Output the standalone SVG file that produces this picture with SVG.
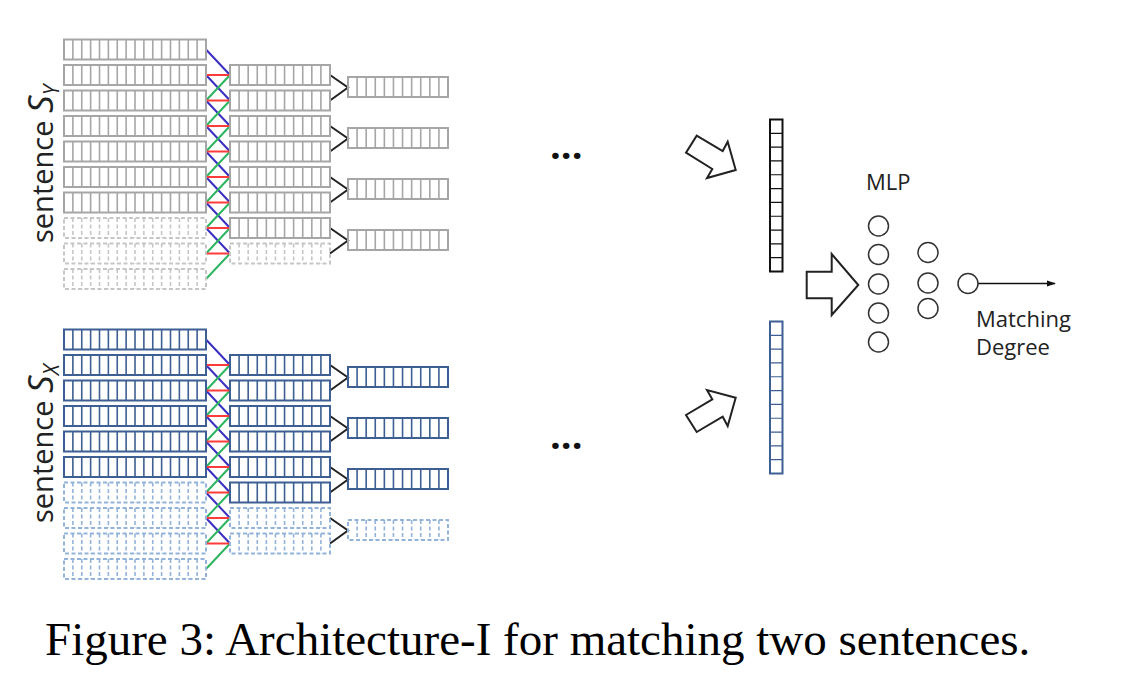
<svg xmlns="http://www.w3.org/2000/svg" xmlns:xlink="http://www.w3.org/1999/xlink" width="1134" height="686" viewBox="0 0 1134 686">
<style>
.g{stroke:#a6a6a6;fill:none}
.gd{stroke:#c6c6c6;fill:none;stroke-dasharray:4 2.5}
.b{stroke:#3d5f93;fill:none}
.bd{stroke:#93b3da;fill:none;stroke-dasharray:4 2.5}
.cb{stroke:#3a2fc0;stroke-width:2;fill:none}
.cr{stroke:#ff3b3b;stroke-width:2;fill:none}
.cg{stroke:#2db560;stroke-width:2;fill:none}
.ck{stroke:#222;stroke-width:2;fill:none}
.ba{fill:#fff;stroke:#222;stroke-width:2;stroke-linejoin:miter}
.nd{fill:#fff;stroke:#333;stroke-width:1.5}
.sans{font-family:"Open Sans","Liberation Sans",sans-serif;fill:#222}
.dots{font-family:"Open Sans","Liberation Sans",sans-serif;font-weight:bold;font-size:38px;fill:#111}
</style>
<defs>
<g id="rowL">
<rect x="0" y="0" width="142" height="20" stroke-width="2"/>
<path stroke-width="1.6" d="M8.875 0V20M17.75 0V20M26.625 0V20M35.5 0V20M44.375 0V20M53.25 0V20M62.125 0V20M71 0V20M79.875 0V20M88.75 0V20M97.625 0V20M106.5 0V20M115.375 0V20M124.25 0V20M133.125 0V20"/>
</g>
<g id="rowM">
<rect x="0" y="0" width="100" height="20" stroke-width="2"/>
<path stroke-width="1.6" d="M9.09 0V20M18.18 0V20M27.27 0V20M36.36 0V20M45.45 0V20M54.55 0V20M63.64 0V20M72.73 0V20M81.82 0V20M90.91 0V20"/>
</g>
<g id="vec">
<rect x="0" y="0" width="12.5" height="152" stroke-width="2"/>
<path stroke-width="1.2" d="M0 13.82H12.5M0 27.64H12.5M0 41.45H12.5M0 55.27H12.5M0 69.09H12.5M0 82.91H12.5M0 96.73H12.5M0 110.55H12.5M0 124.36H12.5M0 138.18H12.5"/>
</g>
<marker id="ah" viewBox="0 0 10 10" refX="9" refY="5" markerWidth="9" markerHeight="9" markerUnits="userSpaceOnUse" orient="auto">
<path d="M0 1.5L10 5L0 8.5z" fill="#111"/>
</marker>
</defs>

<g id="labels">
<text class="sans" font-size="29" transform="rotate(-90 53 243)" x="53" y="243">sentence <tspan font-style="italic" font-size="35">S</tspan><tspan font-style="italic" font-size="21" dy="6">Y</tspan></text>
<text class="sans" font-size="29" transform="rotate(-90 53 523)" x="53" y="523">sentence <tspan font-style="italic" font-size="35">S</tspan><tspan font-style="italic" font-size="21" dy="6">X</tspan></text>
</g>

<g id="connectors">
<path class="cb" d="M206 49.5L230 75M206 75L230 100.5M206 100.5L230 126M206 126L230 151.5M206 151.5L230 177M206 177L230 202.5M206 202.5L230 228M206 228L230 253.5"/>
<path class="cg" d="M206 100.5L230 75M206 126L230 100.5M206 151.5L230 126M206 177L230 151.5M206 202.5L230 177M206 228L230 202.5M206 253.5L230 228M206 279L230 253.5"/>
<path class="cr" d="M206 75H230M206 100.5H230M206 126H230M206 151.5H230M206 177H230M206 202.5H230M206 228H230M206 253.5H230"/>
<path class="ck" d="M330 75L348 87.5L330 100.5M330 126L348 138.5L330 151.5M330 177L348 189.5L330 202.5M330 228L348 240.5L330 253.5"/>
<path class="cb" d="M206 339.5L230 365M206 365L230 390.5M206 390.5L230 416M206 416L230 441.5M206 441.5L230 467M206 467L230 492.5M206 492.5L230 518M206 518L230 543.5"/>
<path class="cg" d="M206 390.5L230 365M206 416L230 390.5M206 441.5L230 416M206 467L230 441.5M206 492.5L230 467M206 518L230 492.5M206 543.5L230 518M206 569L230 543.5"/>
<path class="cr" d="M206 365H230M206 390.5H230M206 416H230M206 441.5H230M206 467H230M206 492.5H230M206 518H230M206 543.5H230"/>
<path class="ck" d="M330 365L348 377.5L330 390.5M330 416L348 428.5L330 441.5M330 467L348 479.5L330 492.5M330 518L348 530.5L330 543.5"/>
<path d="M978 283.5H1055" stroke="#111" stroke-width="1.6" marker-end="url(#ah)"/>
</g>

<g id="sentenceY">
<g id="y-word-layer">
<use href="#rowL" class="g" x="64" y="39.5"/>
<use href="#rowL" class="g" x="64" y="65"/>
<use href="#rowL" class="g" x="64" y="90.5"/>
<use href="#rowL" class="g" x="64" y="116"/>
<use href="#rowL" class="g" x="64" y="141.5"/>
<use href="#rowL" class="g" x="64" y="167"/>
<use href="#rowL" class="g" x="64" y="192.5"/>
<use href="#rowL" class="gd" x="64" y="218"/>
<use href="#rowL" class="gd" x="64" y="243.5"/>
<use href="#rowL" class="gd" x="64" y="269"/>
</g>
<g id="y-conv-layer">
<use href="#rowM" class="g" x="230" y="65"/>
<use href="#rowM" class="g" x="230" y="90.5"/>
<use href="#rowM" class="g" x="230" y="116"/>
<use href="#rowM" class="g" x="230" y="141.5"/>
<use href="#rowM" class="g" x="230" y="167"/>
<use href="#rowM" class="g" x="230" y="192.5"/>
<use href="#rowM" class="g" x="230" y="218"/>
<use href="#rowM" class="gd" x="230" y="243.5"/>
</g>
<g id="y-pool-layer">
<use href="#rowM" class="g" x="348" y="77"/>
<use href="#rowM" class="g" x="348" y="128"/>
<use href="#rowM" class="g" x="348" y="179"/>
<use href="#rowM" class="g" x="348" y="230"/>
</g>
</g>

<g id="sentenceX">
<g id="x-word-layer">
<use href="#rowL" class="b" x="64" y="329.5"/>
<use href="#rowL" class="b" x="64" y="355"/>
<use href="#rowL" class="b" x="64" y="380.5"/>
<use href="#rowL" class="b" x="64" y="406"/>
<use href="#rowL" class="b" x="64" y="431.5"/>
<use href="#rowL" class="b" x="64" y="457"/>
<use href="#rowL" class="bd" x="64" y="482.5"/>
<use href="#rowL" class="bd" x="64" y="508"/>
<use href="#rowL" class="bd" x="64" y="533.5"/>
<use href="#rowL" class="bd" x="64" y="559"/>
</g>
<g id="x-conv-layer">
<use href="#rowM" class="b" x="230" y="355"/>
<use href="#rowM" class="b" x="230" y="380.5"/>
<use href="#rowM" class="b" x="230" y="406"/>
<use href="#rowM" class="b" x="230" y="431.5"/>
<use href="#rowM" class="b" x="230" y="457"/>
<use href="#rowM" class="b" x="230" y="482.5"/>
<use href="#rowM" class="bd" x="230" y="508"/>
<use href="#rowM" class="bd" x="230" y="533.5"/>
</g>
<g id="x-pool-layer">
<use href="#rowM" class="b" x="348" y="367"/>
<use href="#rowM" class="b" x="348" y="418"/>
<use href="#rowM" class="b" x="348" y="469"/>
<use href="#rowM" class="bd" x="348" y="520"/>
</g>
</g>

<g id="ellipses">
<text class="dots" x="550" y="159">...</text>
<text class="dots" x="550" y="449">...</text>
</g>

<g id="arrows">
<polygon class="ba" points="686,152.7 712.3,169 707,178 735.7,170 727.7,141.7 722.7,151 696.7,135.7"/>
<polygon class="ba" points="686,415 712.3,399.3 707,390 735.7,397.7 727.7,426 722.7,416.7 696.7,432"/>
<polygon class="ba" points="806.7,271.7 831.7,271.7 831.7,254 858.3,285 831.7,315 831.7,298.3 806.7,298.3"/>
</g>

<g id="vecY"><use href="#vec" stroke="#111" fill="none" x="770" y="119.5"/></g>
<g id="vecX"><use href="#vec" class="b" x="770" y="321.5"/></g>

<g id="mlp">
<text class="sans" font-size="22" x="866" y="190">MLP</text>
<circle class="nd" cx="878.5" cy="226" r="10"/>
<circle class="nd" cx="878.5" cy="254.5" r="10"/>
<circle class="nd" cx="878.5" cy="284" r="10"/>
<circle class="nd" cx="878.5" cy="313" r="10"/>
<circle class="nd" cx="878.5" cy="342" r="10"/>
<circle class="nd" cx="928" cy="252.5" r="10"/>
<circle class="nd" cx="928" cy="283" r="10"/>
<circle class="nd" cx="928" cy="308.5" r="10"/>
</g>
<g id="output">
<circle class="nd" cx="968" cy="283.5" r="10"/>
<text class="sans" font-size="22" x="976" y="327">Matching</text>
<text class="sans" font-size="22" x="976" y="355">Degree</text>
</g>

<g id="caption">
<text x="45" y="655" font-family="Liberation Serif, serif" font-size="47" fill="#000">Figure 3: Architecture-I for matching two sentences.</text>
</g>
</svg>
